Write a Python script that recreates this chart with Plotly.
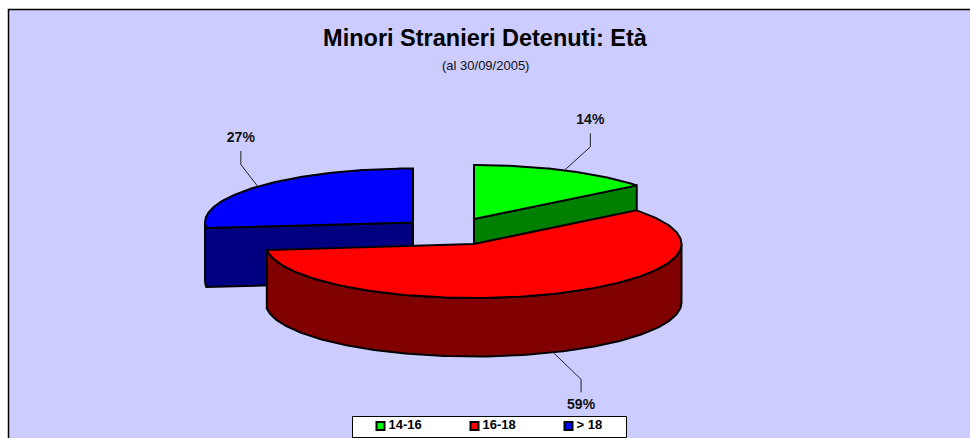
import numpy as np
import plotly.graph_objects as go

categories = ["14-16", "16-18", "> 18"]
values = [14.3, 58.9, 26.8]
top_colors = ["#00FF00", "#FF0000", "#0000FF"]
side_colors = ["#008000", "#800000", "#000080"]

title_text = "Minori Stranieri Detenuti: Età"
subtitle_text = "(al 30/09/2005)"

W, H = 970, 438
RX, RY, DEPTH = 208.0, 54.0, 58.5
# slice apex position on the canvas (exploded pie)
apex = [(474.0, 219.0), (473.5, 244.0), (413.0, 222.5)]
# leader elbow and end offsets relative to the rim anchor, label offset from end
leader_elbow = [(26, -23.5), (28, 27), (-17, -22)]
leader_end = [(26, -37), (28, 40), (-17, -35.5)]
label_gap = [-13, 13.5, -13]
# legend box layout
legend_box = (352.5, 416.5, 626.5, 437.5)
legend_x = [380.5, 474.5, 568.5]
legend_text_dx = 8
legend_y = 426

total = sum(values)
edges = np.cumsum([0] + values) / total * 360.0


def rim(i, deg, drop=0.0):
    a = np.radians(deg)
    ax, ay = apex[i]
    return ax + RX * np.sin(a), ay - RY * np.cos(a) + drop


def arc(i, d0, d1, drop=0.0):
    t = np.linspace(d0, d1, 160)
    return rim(i, t, drop)


def poly(xs, ys, color):
    return go.Scatter(
        x=list(xs), y=list(ys), mode="lines", fill="toself", fillcolor=color,
        line=dict(color="black", width=2), hoverinfo="skip", showlegend=False,
    )


def top_face(i):
    x, y = arc(i, edges[i], edges[i + 1])
    ax, ay = apex[i]
    return poly([ax, *x, ax], [ay, *y, ay], top_colors[i])


traces = []

# blue slice: cut face + small piece of the rim
ax, ay = apex[2]
x0, y0 = arc(2, edges[2], 270)
x1, y1 = arc(2, 270, edges[2], DEPTH)
traces.append(poly([ax, *x0, *x1, ax, ax], [ay, *y0, *y1, ay + DEPTH, ay], side_colors[2]))
traces.append(top_face(2))

# green slice: cut face
ax, ay = apex[0]
gx, gy = rim(0, edges[1])
traces.append(poly([ax, gx, gx, ax, ax], [ay, gy, gy + DEPTH, ay + DEPTH, ay], side_colors[0]))
traces.append(top_face(0))

# red slice: front wall
x0, y0 = arc(1, 90, edges[2])
x1, y1 = arc(1, edges[2], 90, DEPTH)
traces.append(poly([*x0, *x1, x0[0]], [*y0, *y1, y0[0]], side_colors[1]))
traces.append(top_face(1))

# leader lines and percentage labels
for i in range(3):
    mid = (edges[i] + edges[i + 1]) / 2
    sx, sy = rim(i, mid, DEPTH if 90 < mid < 270 else 0.0)
    ex, ey = sx + leader_elbow[i][0], sy + leader_elbow[i][1]
    fx, fy = sx + leader_end[i][0], sy + leader_end[i][1]
    traces.append(go.Scatter(x=[sx, ex, fx], y=[sy, ey, fy], mode="lines",
                             line=dict(color="#222222", width=1), hoverinfo="skip", showlegend=False))
    traces.append(go.Scatter(x=[fx], y=[fy + label_gap[i]], mode="text",
                             text=[f"{round(values[i] / total * 100)}%"],
                             textfont=dict(family="Liberation Sans", size=14, color="#111111", weight="bold"),
                             textposition="middle center", hoverinfo="skip", showlegend=False))

# legend entries
for c, col, lx in zip(categories, top_colors, legend_x):
    traces.append(go.Scatter(x=[lx], y=[legend_y], mode="markers", name=c,
                             marker=dict(symbol="square", size=8, color=col,
                                         line=dict(color="black", width=2)),
                             showlegend=False, hovertemplate=c + "<extra></extra>"))
    traces.append(go.Scatter(x=[lx + legend_text_dx], y=[legend_y], mode="text", text=[c],
                             textposition="middle right",
                             textfont=dict(family="Liberation Sans", size=13, color="black", weight="bold"),
                             showlegend=False, hoverinfo="skip"))

fig = go.Figure(traces)
fig.update_layout(
    width=W, height=H, margin=dict(l=0, r=0, t=0, b=0),
    paper_bgcolor="white", plot_bgcolor="rgba(0,0,0,0)",
    xaxis=dict(range=[0, W], visible=False, fixedrange=True),
    yaxis=dict(range=[H, 0], visible=False, fixedrange=True),
    font=dict(family="Liberation Sans", color="black"),
    title=dict(text=f"<b>{title_text}</b>", x=0.5, xanchor="center", y=1 - 38 / H, yanchor="middle",
               font=dict(family="Liberation Sans", size=23.5, color="black")),
    annotations=[dict(text=subtitle_text, x=485, y=65, xref="x", yref="y", showarrow=False,
                      font=dict(family="Liberation Sans", size=13, color="#111111"))],
    shapes=[
        dict(type="rect", x0=8.5, y0=9.5, x1=W + 10, y1=H + 10, xref="x", yref="y", layer="below",
             fillcolor="#CCCCFF", line=dict(color="black", width=1.5)),
        dict(type="rect", x0=legend_box[0], y0=legend_box[1], x1=legend_box[2], y1=legend_box[3],
             xref="x", yref="y", layer="below", fillcolor="white", line=dict(color="black", width=1)),
    ],
)
fig.write_html("out.html", config={"displayModeBar": False},
               post_script="document.body.style.margin='0';document.documentElement.style.overflow='hidden';")
